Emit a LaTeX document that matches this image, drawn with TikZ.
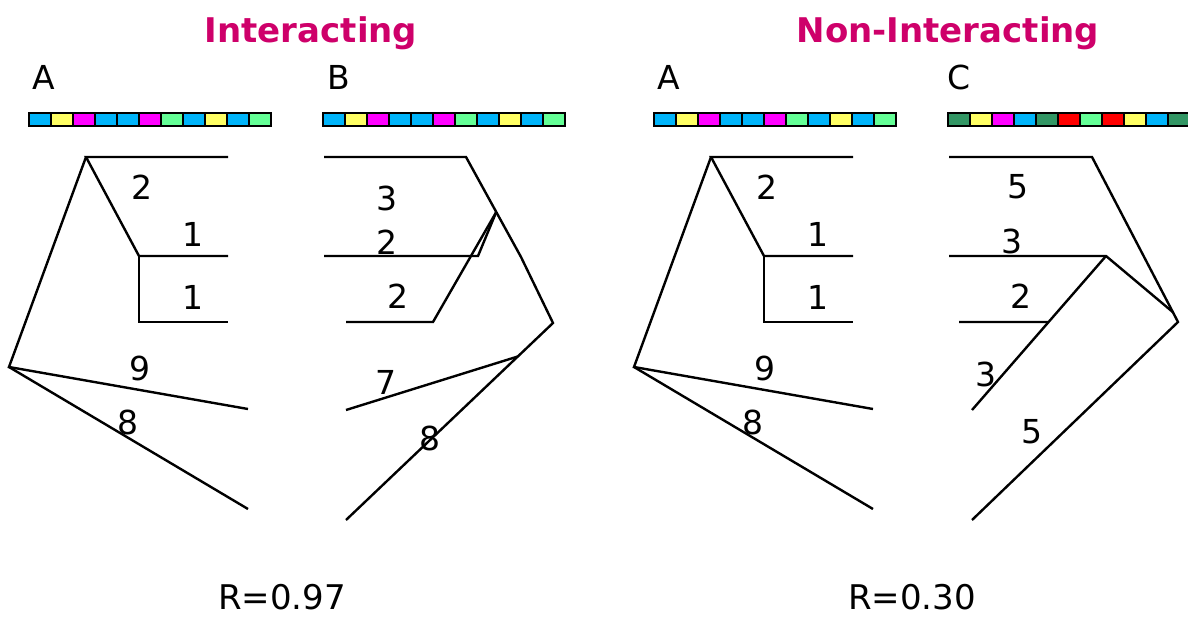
\documentclass[tikz,border=0pt]{standalone}
\usepackage{fontspec}
\setmainfont{DejaVu Sans}
\usetikzlibrary{calc}
\definecolor{titlecol}{RGB}{206,0,106}
\definecolor{cblue}{RGB}{0,180,250}
\definecolor{cyellow}{RGB}{255,255,100}
\definecolor{cmag}{RGB}{255,0,255}
\definecolor{cgreen}{RGB}{100,255,150}
\definecolor{cdark}{RGB}{50,150,100}
\definecolor{cred}{RGB}{255,0,0}

% a strip of 11 coloured cells, each 22 units wide
\newcommand\seqbar[3]{%
  \foreach \c [count=\i from 0] in {#3}
    \draw[barcell, fill=\c] ({#2+22*\i},113) rectangle ++(22,13);
  \node[inner sep=0pt, stripbox] (#1) at ({#2+121},119.5) {};
}

% the tree shared by both "A" panels
\newcommand\treeA[2]{%
  \begin{scope}[shift={(#2,0)}]
    \coordinate (#1top)  at (86,157);
    \coordinate (#1t1)   at (228,157);
    \coordinate (#1mid)  at (139,256);
    \coordinate (#1t2)   at (228,256);
    \coordinate (#1low)  at (139,322);
    \coordinate (#1t3)   at (228,322);
    \coordinate (#1root) at (9,367);
    \coordinate (#1t4)   at (248,409);
    \coordinate (#1t5)   at (248,509);
    \draw[branch] (#1t1) -- (#1top) -- (#1mid) -- (#1t2);
    \draw[branch] (#1mid) -- (#1low) -- (#1t3);
    \draw[branch] (#1t4) -- (#1root) -- (#1top);
    \draw[branch] (#1root) -- (#1t5);
    \node[lbl] (#1w1) at (142,187) {2};
    \node[lbl] (#1w2) at (193,234) {1};
    \node[lbl] (#1w3) at (193,297) {1};
    \node[lbl] (#1w4) at (140,368) {9};
    \node[lbl] (#1w5) at (128,422) {8};
  \end{scope}}

\begin{document}
\begin{tikzpicture}[x=1pt, y=-1pt,
    branch/.style={line width=2.4pt, line join=miter, line cap=butt},
    barcell/.style={draw=black, line width=2.4pt},
    stripbox/.style={minimum width=242pt, minimum height=13pt},
    lbl/.style={font=\fontsize{33}{36}\selectfont, inner sep=0pt},
    head/.style={font=\fontsize{33}{36}\selectfont, inner sep=0pt, anchor=base},
    title/.style={font=\fontsize{34}{40}\selectfont\bfseries, text=titlecol, inner sep=0pt, anchor=base},
    score/.style={font=\fontsize{34}{38}\selectfont, inner sep=0pt, anchor=base}]
\useasboundingbox[clip] (0,0) rectangle (1188,618);

% titles
\node[title] (tInt) at (311,43) {Interacting};
\node[title] (tNon) at (948,43) {Non-Interacting};

% panel letters
\node[head] (hA1) at (44,89) {A};
\node[head] (hB)  at (339,89) {B};
\node[head] (hA2) at (669,89) {A};
\node[head] (hC)  at (959,89) {C};

% sequence strips
\seqbar{barA1}{29}{cblue,cyellow,cmag,cblue,cblue,cmag,cgreen,cblue,cyellow,cblue,cgreen}
\seqbar{barB}{323}{cblue,cyellow,cmag,cblue,cblue,cmag,cgreen,cblue,cyellow,cblue,cgreen}
\seqbar{barA2}{654}{cblue,cyellow,cmag,cblue,cblue,cmag,cgreen,cblue,cyellow,cblue,cgreen}
\seqbar{barC}{948}{cdark,cyellow,cmag,cblue,cdark,cred,cgreen,cred,cyellow,cblue,cdark}

% tree A, twice
\treeA{L}{0}
\treeA{R}{625}

% tree B
\coordinate (bl1)  at (324,157);
\coordinate (bn1)  at (466,157);
\coordinate (bbend) at (521,257);
\coordinate (bx)   at ($(bn1)!0.55!(bbend)$);
\coordinate (bn2)  at (553,323);
\coordinate (bl8)  at (346,520);
\coordinate (bl2)  at (324,256);
\coordinate (bj2)  at (478,256);
\coordinate (bl3)  at (346,322);
\coordinate (bj3)  at (433,322);
\coordinate (bl7)  at (346,410);
\coordinate (bj7)  at ($(bn2)!0.17!(bl8)$);
\draw[branch] (bl1) -- (bn1) -- (bbend) -- (bn2) -- (bl8);
\draw[branch] (bl2) -- (bj2) -- (bx);
\draw[branch] (bl3) -- (bj3) -- (bx);
\draw[branch] (bl7) -- (bj7);
\node[lbl] (bw1) at (387,198) {3};
\node[lbl] (bw2) at (387,242) {2};
\node[lbl] (bw3) at (398,296) {2};
\node[lbl] (bw4) at (386,382) {7};
\node[lbl] (bw5) at (430,438) {8};

% tree C
\coordinate (cl1) at (949,157);
\coordinate (cn1) at (1092,157);
\coordinate (cr)  at (1178,322);
\coordinate (cl5) at (972,520);
\coordinate (cl2) at (949,256);
\coordinate (cy)  at (1106,256);
\coordinate (cj)  at ($(cn1)!0.94!(cr)$);
\coordinate (cl4) at (972,410);
\coordinate (cl3) at (959,322);
\coordinate (cj3) at ($(cy)!0.4286!(cl4)$);
\draw[branch] (cl1) -- (cn1) -- (cr) -- (cl5);
\draw[branch] (cl2) -- (cy) -- (cj);
\draw[branch] (cy) -- (cl4);
\draw[branch] (cl3) -- (cj3);
\node[lbl] (cw1) at (1018,187) {5};
\node[lbl] (cw2) at (1012,241) {3};
\node[lbl] (cw3) at (1021,296) {2};
\node[lbl] (cw4) at (986,374) {3};
\node[lbl] (cw5) at (1032,432) {5};

% scores
\node[score] (sInt) at (282,609) {R=0.97};
\node[score] (sNon) at (912,609) {R=0.30};
\end{tikzpicture}
\end{document}
